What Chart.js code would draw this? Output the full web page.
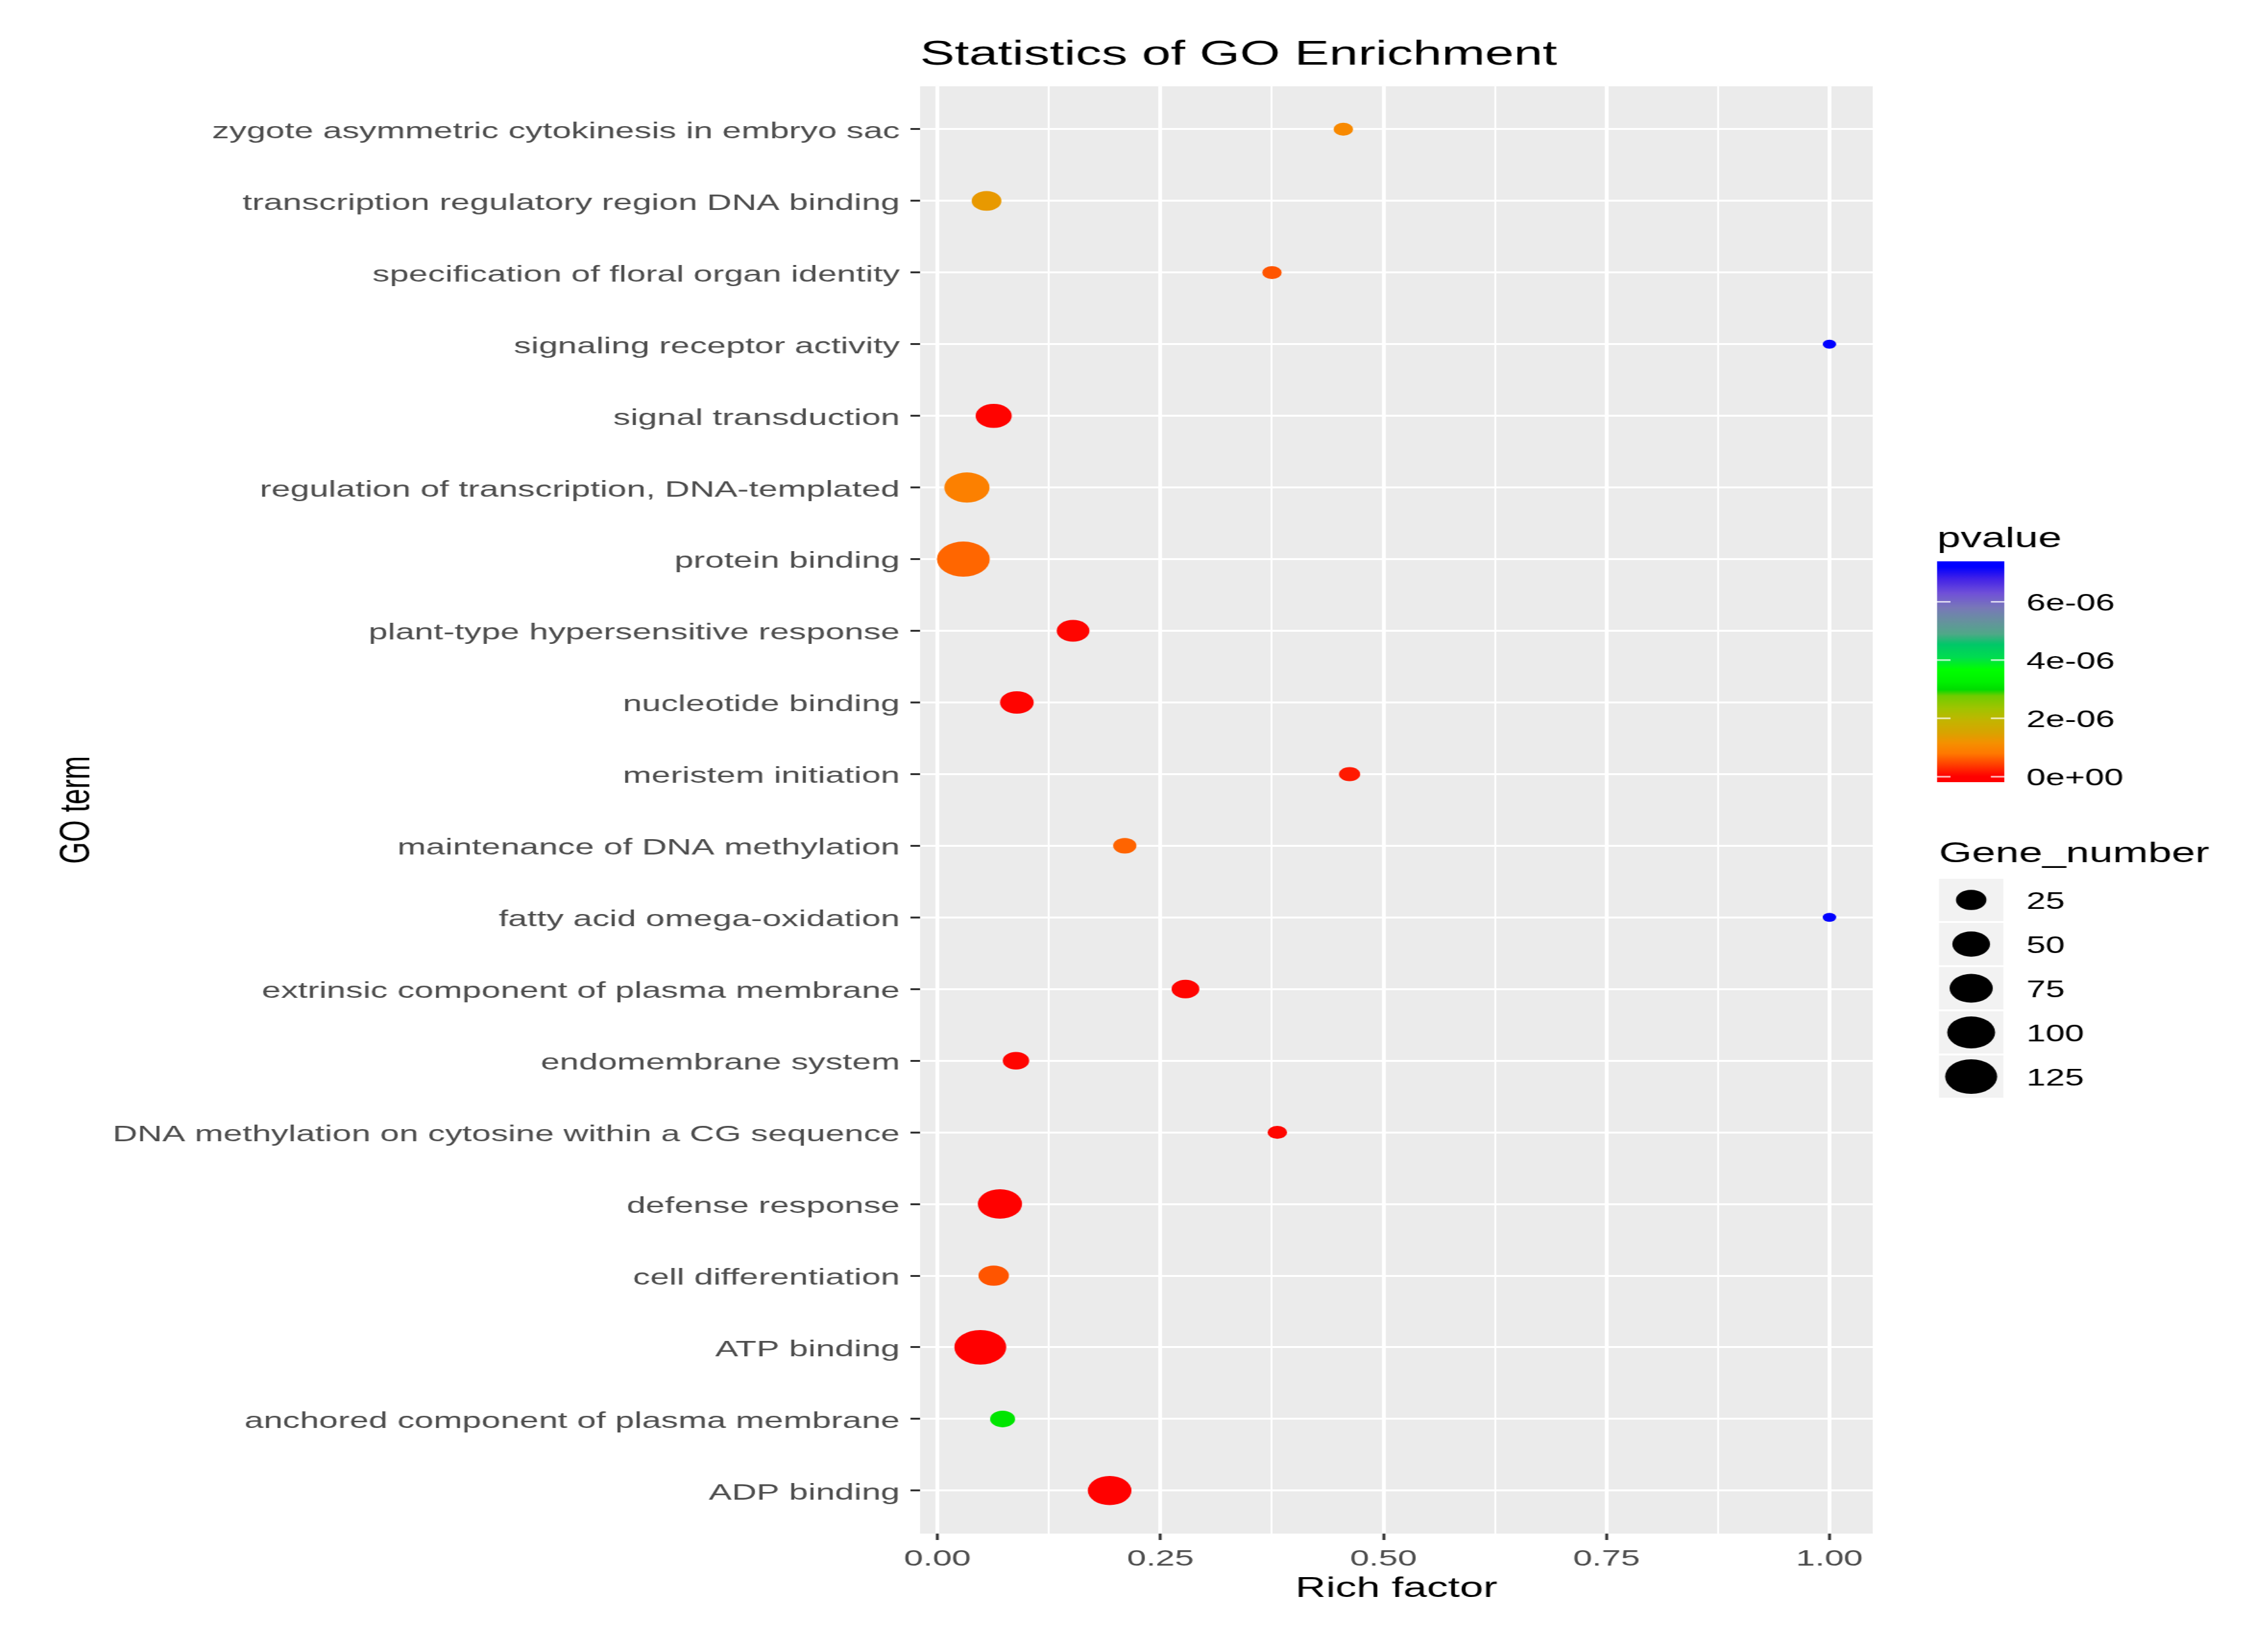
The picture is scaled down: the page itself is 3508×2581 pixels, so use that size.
<!DOCTYPE html>
<html>
<head>
<meta charset="utf-8">
<title>Statistics of GO Enrichment</title>
<script src="https://cdn.jsdelivr.net/npm/chart.js@4.4.1/dist/chart.umd.min.js"></script>
<style>
  html, body { margin: 0; padding: 0; background: #ffffff; overflow: hidden; }
  /* the reference image was saved stretched ~1.5x horizontally, so draw narrow and stretch */
  #wrap { position: absolute; left: 0; top: 0; width: 2339px; height: 2581px;
          transform: scaleX(1.5); transform-origin: 0 0; }
</style>
</head>
<body>
<div id="wrap"><canvas id="chart"></canvas></div>
<script>
// GO terms, top row first
const terms = [
  'zygote asymmetric cytokinesis in embryo sac',
  'transcription regulatory region DNA binding',
  'specification of floral organ identity',
  'signaling receptor activity',
  'signal transduction',
  'regulation of transcription, DNA-templated',
  'protein binding',
  'plant-type hypersensitive response',
  'nucleotide binding',
  'meristem initiation',
  'maintenance of DNA methylation',
  'fatty acid omega-oxidation',
  'extrinsic component of plasma membrane',
  'endomembrane system',
  'DNA methylation on cytosine within a CG sequence',
  'defense response',
  'cell differentiation',
  'ATP binding',
  'anchored component of plasma membrane',
  'ADP binding',
];
const richFactor = [0.455, 0.055, 0.375, 1.000, 0.063, 0.033, 0.029, 0.152, 0.089, 0.462,
                    0.210, 1.000, 0.278, 0.088, 0.381, 0.070, 0.063, 0.048, 0.073, 0.193];
const pvalue = [1.05e-6, 1.31e-6, 0.56e-6, 7.2e-6, 0.02e-6, 0.91e-6, 0.67e-6, 0.04e-6, 0.03e-6, 0.18e-6,
                0.66e-6, 7.2e-6, 0.03e-6, 0.04e-6, 0.05e-6, 0.01e-6, 0.56e-6, 0.001e-6, 3.1e-6, 0.01e-6];
const geneNumber = [4, 23, 4, 1, 44, 85, 130, 32, 35, 6,
                    9, 1, 18, 15, 4, 80, 25, 124, 12, 77];

const xMajorTicks = [0, 0.25, 0.5, 0.75, 1];
const pvalueBreaks = [0, 2e-6, 4e-6, 6e-6];
const pvalueLabels = ['0e+00', '2e-06', '4e-06', '6e-06'];
const sizeBreaks = [25, 50, 75, 100, 125];

// colour scale sampled off the colourbar: [fraction of p range, colour]
const PV_STOPS = [
  [0.000, '#FF0000'], [0.020, '#FF1400'], [0.060, '#FF4200'], [0.110, '#FF7800'],
  [0.160, '#F59000'], [0.210, '#D8A400'], [0.265, '#C4B400'], [0.325, '#A0C400'],
  [0.385, '#70CC00'], [0.415, '#00DC00'], [0.450, '#00F000'], [0.510, '#00FF00'],
  [0.570, '#00DC50'], [0.630, '#00C868'], [0.680, '#50A888'], [0.745, '#6890A0'],
  [0.805, '#7878B8'], [0.875, '#7050D8'], [0.945, '#4020E8'], [1.000, '#0000FF'],
];

const FONT = '"Liberation Sans", Arial, sans-serif';
Chart.defaults.font.family = FONT;

const pMin = Math.min(...pvalue), pMax = Math.max(...pvalue);
const gMin = Math.min(...geneNumber), gMax = Math.max(...geneNumber);
const xLo = Math.min(...richFactor), xHi = Math.max(...richFactor);
const xPad = (xHi - xLo) * 0.05;

function hexRgb(h) {
  return [parseInt(h.slice(1, 3), 16), parseInt(h.slice(3, 5), 16), parseInt(h.slice(5, 7), 16)];
}
function pColor(p) {
  const f = Math.max(0, Math.min(1, (p - pMin) / (pMax - pMin)));
  for (let i = 1; i < PV_STOPS.length; i++) {
    const [f1, c1] = PV_STOPS[i];
    if (f <= f1) {
      const [f0, c0] = PV_STOPS[i - 1];
      const t = (f - f0) / (f1 - f0);
      const a = hexRgb(c0), b = hexRgb(c1);
      return `rgb(${a.map((v, k) => Math.round(v + (b[k] - v) * t)).join(',')})`;
    }
  }
  return PV_STOPS[PV_STOPS.length - 1][1];
}
// point diameter in px, area-style size scale like ggplot
const sizeDiam = (n) => 14 + 41 * Math.sqrt(Math.max(0, n - gMin) / (gMax - gMin));

const xGridTicks = [];
xMajorTicks.forEach((v, i) => {
  xGridTicks.push(v);
  if (i < xMajorTicks.length - 1) xGridTicks.push((v + xMajorTicks[i + 1]) / 2);
});
const isMajor = (v) => xMajorTicks.includes(v);

const panelBg = {
  id: 'panelBg',
  beforeDraw(chart) {
    const { ctx, chartArea: a } = chart;
    ctx.save();
    ctx.fillStyle = '#EBEBEB';
    ctx.fillRect(a.left, a.top, a.right - a.left, a.bottom - a.top);
    ctx.restore();
  }
};

const legendPanel = {
  id: 'legendPanel',
  afterDraw(chart) {
    const ctx = chart.ctx;
    ctx.save();
    ctx.fillStyle = '#000';
    ctx.textAlign = 'left';
    ctx.textBaseline = 'alphabetic';
    ctx.font = `44px ${FONT}`;
    ctx.fillText('pvalue', 2017, 855);

    // colourbar, 20 bins with half a bin past each end
    const bx = 2017, bw = 70, by = 877, bh = 345;
    const half = bh / 20 / 2;
    const yTop = by + half, yBot = by + bh - half;
    const grad = ctx.createLinearGradient(0, yBot, 0, yTop);
    PV_STOPS.forEach(([f, c]) => grad.addColorStop(f, c));
    ctx.fillStyle = grad;
    ctx.fillRect(bx, by, bw, bh);

    ctx.font = `36px ${FONT}`;
    ctx.textBaseline = 'middle';
    pvalueBreaks.forEach((v, i) => {
      const y = yBot - (v - pMin) / (pMax - pMin) * (yBot - yTop);
      ctx.strokeStyle = 'rgba(255,255,255,0.75)';
      ctx.lineWidth = 2.5;
      ctx.beginPath();
      ctx.moveTo(bx, y); ctx.lineTo(bx + bw / 5, y);
      ctx.moveTo(bx + bw * 4 / 5, y); ctx.lineTo(bx + bw, y);
      ctx.stroke();
      ctx.fillStyle = '#000';
      ctx.fillText(pvalueLabels[i], 2110, y + 4);
    });

    // size legend
    ctx.textBaseline = 'alphabetic';
    ctx.font = `44px ${FONT}`;
    ctx.fillText('Gene_number', 2019, 1347);
    ctx.font = `36px ${FONT}`;
    ctx.textBaseline = 'middle';
    sizeBreaks.forEach((n, i) => {
      const cy = 1406 + i * 69;
      ctx.fillStyle = '#F2F2F2';
      ctx.fillRect(2019, cy - 33, 67, 66);
      ctx.fillStyle = '#000';
      ctx.beginPath();
      ctx.arc(2019 + 33.5, cy, sizeDiam(n) / 2, 0, Math.PI * 2);
      ctx.fill();
      ctx.fillText(String(n), 2110, cy + 4);
    });
    ctx.restore();
  }
};

new Chart(document.getElementById('chart'), {
  type: 'scatter',
  data: {
    datasets: [{
      data: terms.map((t, i) => ({ x: richFactor[i], y: i })),
      backgroundColor: pvalue.map(pColor),
      pointRadius: geneNumber.map(n => sizeDiam(n) / 2),
      pointHoverRadius: geneNumber.map(n => sizeDiam(n) / 2),
      borderWidth: 0,
      clip: false,
    }]
  },
  options: {
    responsive: true,
    maintainAspectRatio: false,
    animation: false,
    events: [],
    layout: { padding: { left: 20, right: 389, top: 20, bottom: 60 } },
    plugins: {
      legend: { display: false },
      tooltip: { enabled: false },
      title: {
        display: true,
        text: 'Statistics of GO Enrichment',
        align: 'start',
        fullSize: false,
        color: '#000',
        font: { size: 54, weight: 'normal' },
        padding: { top: 34, bottom: 16 },
      }
    },
    scales: {
      x: {
        type: 'linear',
        min: xLo - xPad,
        max: xHi + xPad,
        afterBuildTicks: (s) => { s.ticks = xGridTicks.map(v => ({ value: v })); },
        afterFit: (s) => { s.height = 125; },
        border: { display: false },
        grid: {
          color: '#FFFFFF',
          lineWidth: (c) => (c.tick && isMajor(c.tick.value)) ? 4 : 2,
          tickColor: (c) => (c.tick && isMajor(c.tick.value)) ? '#333333' : 'rgba(0,0,0,0)',
          tickLength: 10,
          tickWidth: 3,
        },
        ticks: {
          autoSkip: false,
          maxRotation: 0,
          padding: 9,
          color: '#4D4D4D',
          font: { size: 35.8 },
          callback: (v) => isMajor(v) ? v.toFixed(2) : '',
        },
        title: {
          display: true,
          text: 'Rich factor',
          color: '#000',
          font: { size: 44 },
          padding: { top: 0, bottom: 12 },
        }
      },
      y: {
        type: 'linear',
        reverse: true,
        min: -0.6,
        max: terms.length - 1 + 0.6,
        afterBuildTicks: (s) => { s.ticks = terms.map((t, i) => ({ value: i })); },
        afterFit: (s) => { s.width = 938; },
        border: { display: false },
        grid: {
          color: '#FFFFFF',
          lineWidth: 3,
          tickColor: '#333333',
          tickLength: 10,
          tickWidth: 3,
        },
        ticks: {
          autoSkip: false,
          padding: 11,
          labelOffset: 4,
          color: '#4D4D4D',
          font: { size: 35.8 },
          callback: (v) => terms[v],
        },
        title: {
          display: true,
          text: 'GO term',
          color: '#000',
          font: { size: 44 },
          padding: { top: 34, bottom: 0 },
        }
      }
    }
  },
  plugins: [panelBg, legendPanel]
});
</script>
</body>
</html>
